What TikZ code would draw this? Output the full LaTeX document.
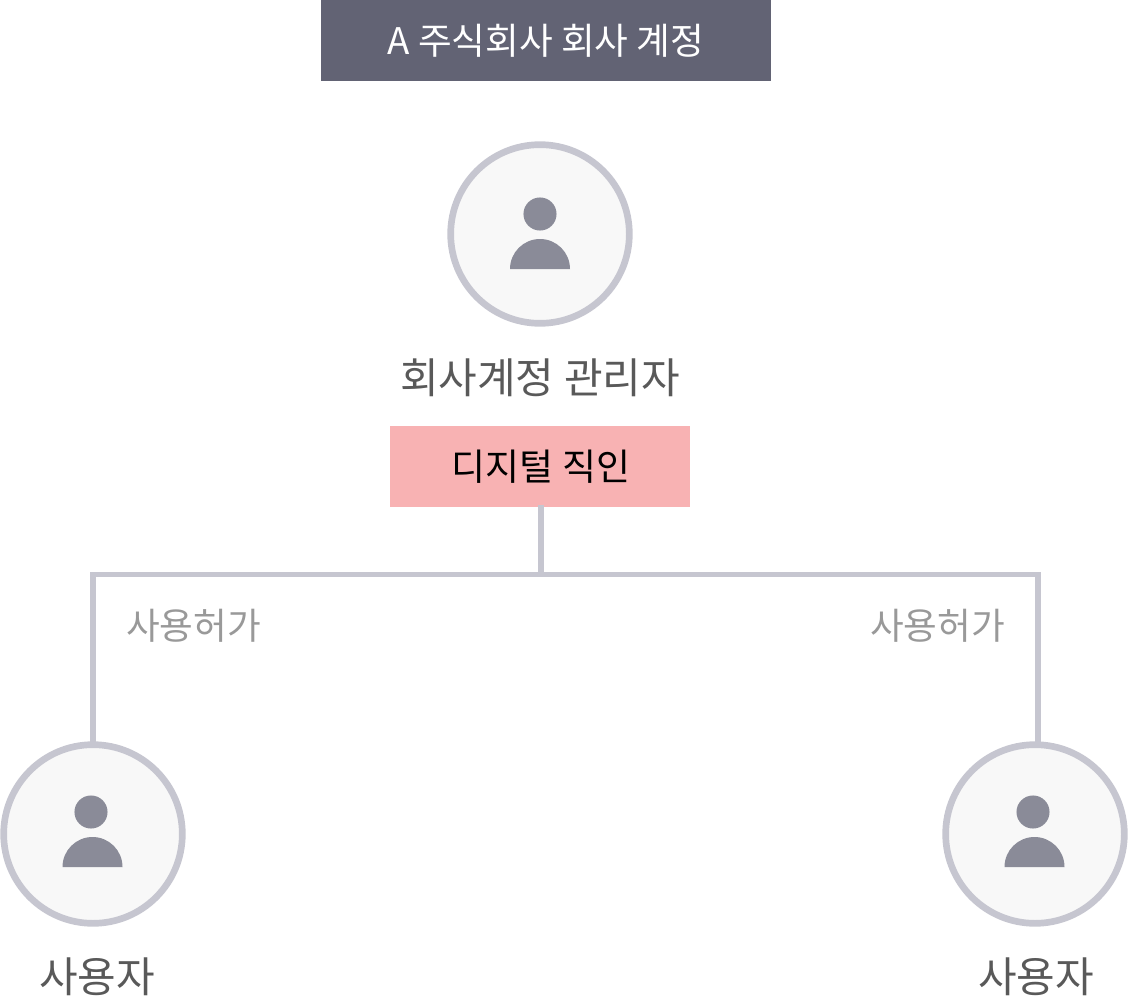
\documentclass[tikz,border=0pt]{standalone}
\usepackage{fontspec}
\setmainfont{Noto Sans CJK KR}
\usetikzlibrary{positioning}
\definecolor{banner}{HTML}{626374}
\definecolor{seal}{HTML}{F8B2B3}
\definecolor{ringline}{HTML}{C6C6D0}
\definecolor{ringfill}{HTML}{F8F8F8}
\definecolor{figgray}{HTML}{8A8B98}
\definecolor{namegray}{HTML}{595959}
\definecolor{permgray}{HTML}{999999}
\tikzset{
  account/.style={circle, draw=ringline, fill=ringfill, line width=5pt, minimum size=134pt, inner sep=0pt},
  wire/.style={draw=ringline, line width=4pt},
  whois/.style={text=namegray, font=\fontsize{31.5pt}{31.5pt}\selectfont, inner sep=0pt},
  perm/.style={text=permgray, font=\fontsize{27.5pt}{27.5pt}\selectfont, inner sep=0pt},
}
\newcommand{\person}[2]{
  \fill[figgray] (#1) ++(#2, -20) circle (12.4pt);
  \fill[figgray] (#1) ++(-30, 35) arc (180:0:22.5pt) -- cycle;
}
\begin{document}
\begin{tikzpicture}[x=0.75pt, y=-0.75pt]
  \useasboundingbox (0, 0) rectangle (1128, 999);
  % boxes
  \node (company) [fill=banner, minimum width=337.5pt, minimum height=60.75pt, inner sep=0pt, text=white, font=\fontsize{27.5pt}{27.5pt}\selectfont] at (546, 40.5) {A 주식회사 회사 계정};
  \node (stamp) [fill=seal, minimum width=225pt, minimum height=60.75pt, inner sep=0pt, text=black, font=\fontsize{27.7pt}{27.7pt}\selectfont] at (540, 466.5) {\hspace{1.5pt}디지털 직인};
  % connectors
  \coordinate (joint) at (541, 574.5);
  \coordinate (cornerl) at (93, 574.5);
  \coordinate (cornerr) at (1038, 574.5);
  \coordinate (stampfoot) at (541, 505);
  \coordinate (footl) at (93, 750);
  \coordinate (footr) at (1038, 750);
  \draw[wire] (stampfoot) -- (joint);
  \draw[wire] (footl) -- (cornerl) -- (cornerr) -- (footr);
  % people
  \node (admin) [account] at (540, 234) {};
  \node (userl) [account] at (93, 834) {};
  \node (userr) [account] at (1035, 834) {};
  \coordinate (figl) at (92.5, 832);
  \coordinate (figr) at (1034.5, 832);
  \person{admin}{0}
  \person{figl}{-1.5}
  \person{figr}{-1.5}
  % labels
  \node (adminname) [whois] at (540, 378) {회사계정 관리자};
  \node (userlname) [whois] at (97, 977) {사용자};
  \node (userrname) [whois] at (1036, 977) {사용자};
  \node (perml) [perm] at (193.5, 626) {사용허가};
  \node (permr) [perm] at (937.5, 626) {사용허가};
\end{tikzpicture}
\end{document}
